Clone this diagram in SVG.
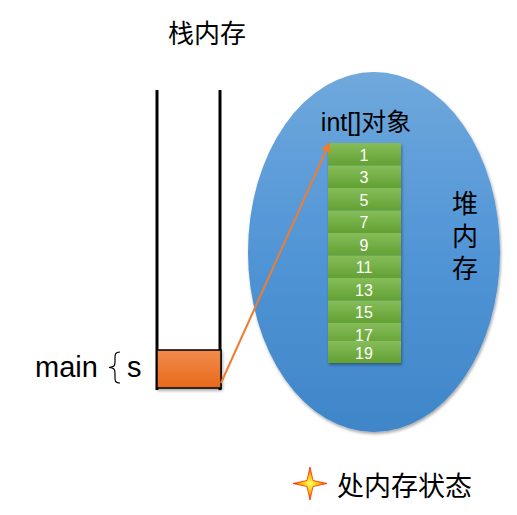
<svg xmlns="http://www.w3.org/2000/svg" width="517" height="515" viewBox="0 0 517 515">
<defs>
<linearGradient id="heapG" x1="0" y1="0" x2="0" y2="1">
<stop offset="0" stop-color="#6fa8dc"/>
<stop offset="0.5" stop-color="#5195d6"/>
<stop offset="1" stop-color="#3f86c8"/>
</linearGradient>
<linearGradient id="cellG" x1="0" y1="0" x2="0" y2="1">
<stop offset="0" stop-color="#86bd5a"/>
<stop offset="1" stop-color="#62a133"/>
</linearGradient>
<linearGradient id="orgG" x1="0" y1="0" x2="0" y2="1">
<stop offset="0" stop-color="#f28b4c"/>
<stop offset="1" stop-color="#e8691c"/>
</linearGradient>
<radialGradient id="starG" cx="0.5" cy="0.5" r="0.5">
<stop offset="0" stop-color="#ffff66"/>
<stop offset="0.5" stop-color="#ffc000"/>
<stop offset="1" stop-color="#ff3300"/>
</radialGradient>
<marker id="ah" markerWidth="10" markerHeight="10" refX="8" refY="5" orient="auto" markerUnits="userSpaceOnUse">
<path d="M0,0 L10,5 L0,10 z" fill="#ed7d31"/>
</marker>
<filter id="sh" x="-10%" y="-10%" width="130%" height="130%">
<feDropShadow dx="1" dy="2" stdDeviation="1.5" flood-color="#000" flood-opacity="0.35"/>
</filter>
</defs>
<style>
.t{font-family:"Liberation Sans","Noto Sans CJK SC",sans-serif;fill:#000}
.c{font-family:"Liberation Sans","Noto Sans CJK SC",sans-serif;fill:#fff;font-size:16px;text-anchor:middle}
.cell{fill:url(#cellG)}
</style>
<rect width="517" height="515" fill="#fff"/>
<g id="stack">
<text class="t" x="207" y="43" font-size="26" text-anchor="middle">栈内存</text>
<line x1="157" y1="90" x2="157" y2="390" stroke="#000" stroke-width="3"/>
<line x1="220" y1="90" x2="220" y2="390" stroke="#000" stroke-width="3"/>
</g>
<g id="heap">
<ellipse cx="374" cy="252" rx="126" ry="180" fill="url(#heapG)" filter="url(#sh)"/>
<text class="t" x="366" y="131" font-size="25" text-anchor="middle">int[]对象</text>
<text class="t" x="465" y="213" font-size="26" text-anchor="middle">堆</text>
<text class="t" x="465" y="246" font-size="26" text-anchor="middle">内</text>
<text class="t" x="465" y="278" font-size="26" text-anchor="middle">存</text>
</g>
<g id="array" filter="url(#sh)">
<rect class="cell" x="328" y="143" width="73" height="22.5"/>
<rect class="cell" x="328" y="165.5" width="73" height="22.5"/>
<rect class="cell" x="328" y="188" width="73" height="22.5"/>
<rect class="cell" x="328" y="210.5" width="73" height="22.5"/>
<rect class="cell" x="328" y="233" width="73" height="22.5"/>
<rect class="cell" x="328" y="255.5" width="73" height="22.5"/>
<rect class="cell" x="328" y="278" width="73" height="22.5"/>
<rect class="cell" x="328" y="300.5" width="73" height="22.5"/>
<rect class="cell" x="328" y="323" width="73" height="22.5"/>
<rect class="cell" x="328" y="341" width="73" height="22"/>
</g>
<g id="array-labels">
<text class="c" x="364" y="161">1</text>
<text class="c" x="364" y="183">3</text>
<text class="c" x="364" y="206">5</text>
<text class="c" x="364" y="228">7</text>
<text class="c" x="364" y="251">9</text>
<text class="c" x="364" y="273">11</text>
<text class="c" x="364" y="296">13</text>
<text class="c" x="364" y="318">15</text>
<text class="c" x="364" y="341">17</text>
<text class="c" x="364" y="359">19</text>
</g>
<g id="frame">
<rect x="157" y="350" width="64" height="38" fill="url(#orgG)" stroke="#000" stroke-width="1.5" filter="url(#sh)"/>
<text class="t" x="35" y="377" font-size="29">main</text>
<path d="M120,352 C114,352 115,356 115,362 C115,366 114,367 109,367.5 C114,368 115,369 115,373 C115,380 114,383 120,383" fill="none" stroke="#000" stroke-width="1.2"/>
<text class="t" x="127" y="377" font-size="29">s</text>
</g>
<g id="connectors">
<line x1="221" y1="383" x2="329" y2="144" stroke="#ed7d31" stroke-width="2" marker-end="url(#ah)"/>
</g>
<g id="legend">
<path d="M310,467 L313,480.5 L327,483.5 L313,486.5 L310,500 L307,486.5 L293,483.5 L307,480.5 Z" fill="url(#starG)" stroke="#ff2a00" stroke-width="0.8"/>
<text class="t" x="337" y="496" font-size="27">处内存状态</text>
</g>
</svg>
